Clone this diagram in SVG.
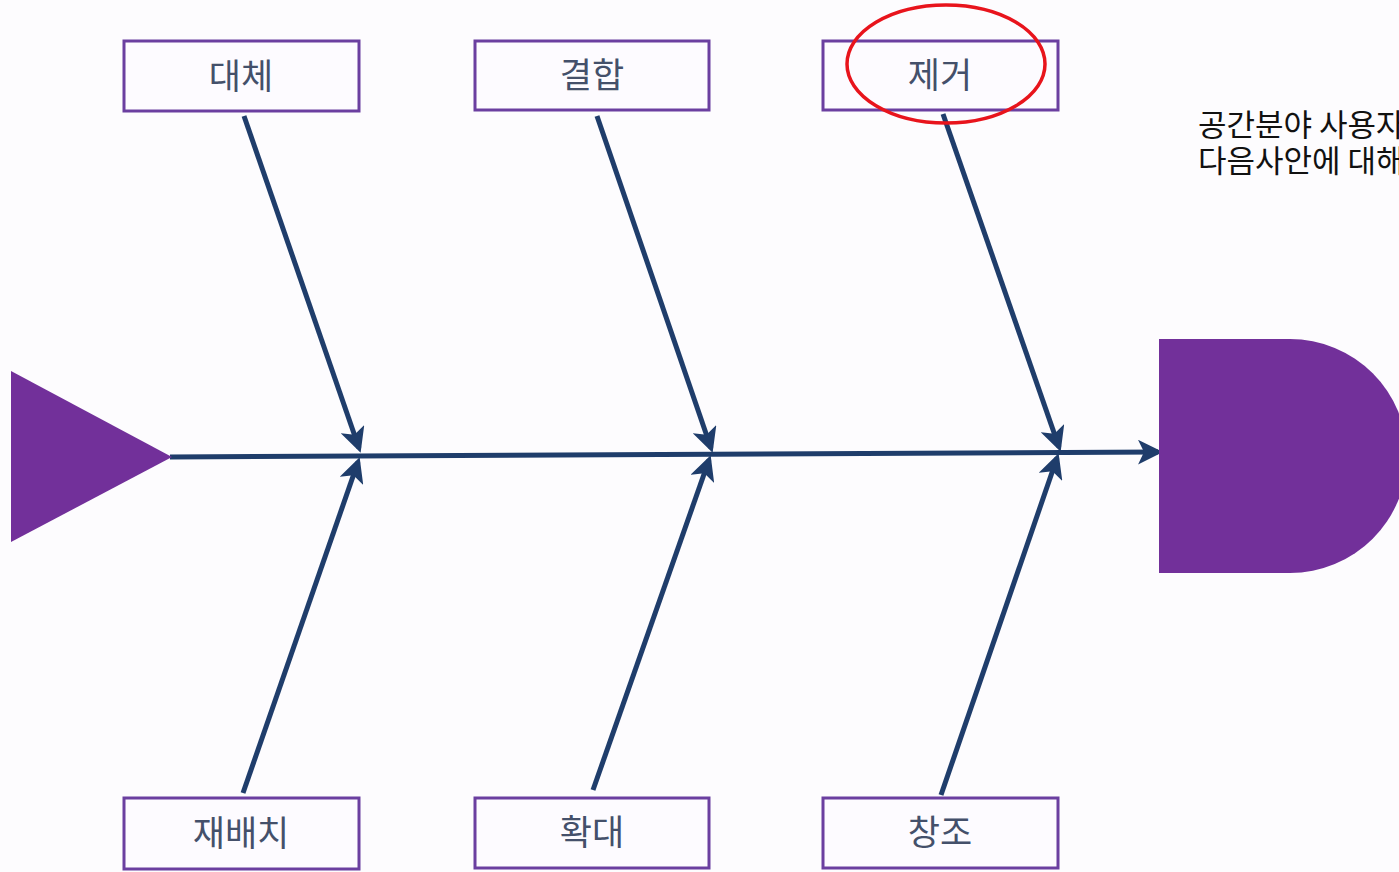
<svg xmlns="http://www.w3.org/2000/svg" width="1399" height="872" viewBox="0 0 1399 872">
<style>
.box{fill:#fdfbff;stroke:#6b3fa0;stroke-width:3}
.lbl{font-family:"Noto Sans CJK KR","Noto Sans",sans-serif;font-size:35px;fill:#44506a;text-anchor:middle}
.bone{stroke:#1f3d6b;stroke-width:5;fill:none;marker-end:url(#ah)}
.note{font-family:"Noto Sans CJK KR","Noto Sans",sans-serif;font-size:31px;fill:#111}
</style>
<defs>
<marker id="ah" markerWidth="5" markerHeight="5" refX="4" refY="2.5" orient="auto" markerUnits="strokeWidth">
<path d="M0,0 L5,2.5 L0,5 L1.2,2.5 Z" fill="#1f3d6b"/>
</marker>
</defs>
<rect width="1399" height="872" fill="#fdfcfe"/>
<g id="connectors">
<line class="bone" x1="170" y1="457" x2="1158" y2="452"/>
<line class="bone" x1="244" y1="116" x2="359" y2="448"/>
<line class="bone" x1="597" y1="116" x2="711" y2="448"/>
<line class="bone" x1="943" y1="114" x2="1059" y2="447"/>
<line class="bone" x1="243" y1="793" x2="358" y2="462"/>
<line class="bone" x1="593" y1="790" x2="709" y2="460"/>
<line class="bone" x1="941" y1="795" x2="1057" y2="458"/>
</g>
<g id="tail"><polygon points="11,371 172,457 11,542" fill="#72309a"/></g>
<g id="head"><path d="M1159,339 L1290,339 A117,117 0 0 1 1290,573 L1159,573 Z" fill="#72309a"/></g>
<g id="n1"><rect class="box" x="124" y="41" width="235" height="70"/><text class="lbl" x="241" y="89">대체</text></g>
<g id="n2"><rect class="box" x="475" y="41" width="234" height="69"/><text class="lbl" x="592" y="88">결합</text></g>
<g id="n3"><rect class="box" x="823" y="41" width="235" height="69"/><text class="lbl" x="940" y="88">제거</text></g>
<g id="n4"><rect class="box" x="124" y="798" width="235" height="71"/><text class="lbl" x="241" y="846">재배치</text></g>
<g id="n5"><rect class="box" x="475" y="798" width="234" height="70"/><text class="lbl" x="592" y="845">확대</text></g>
<g id="n6"><rect class="box" x="823" y="798" width="235" height="70"/><text class="lbl" x="940" y="845">창조</text></g>
<g id="highlight"><ellipse cx="946" cy="64" rx="99" ry="59" fill="none" stroke="#e8141c" stroke-width="3.5"/></g>
<g id="note">
<text class="note" x="1198" y="136">공간분야 사용자</text>
<text class="note" x="1198" y="172">다음사안에 대해</text>
</g>
</svg>
